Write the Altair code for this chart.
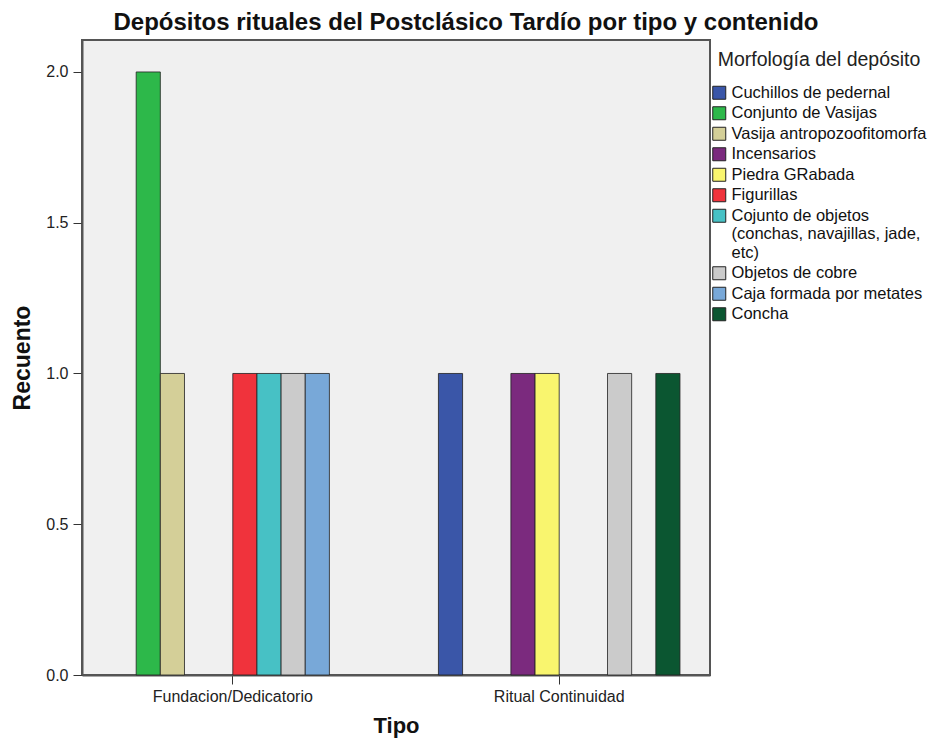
import altair as alt
import pandas as pd

tipos = ["Fundacion/Dedicatorio", "Ritual Continuidad"]
morfologias = [
    "Cuchillos de pedernal",
    "Conjunto de Vasijas",
    "Vasija antropozoofitomorfa",
    "Incensarios",
    "Piedra GRabada",
    "Figurillas",
    "Cojunto de objetos (conchas, navajillas, jade, etc)",
    "Objetos de cobre",
    "Caja formada por metates",
    "Concha",
]
colores = ["#3A56A8", "#2DB84A", "#D4CF98", "#7B2A7E", "#F9F56E",
           "#F0333C", "#47C1C5", "#CBCBCB", "#78A8D8", "#0B5631"]

fund_tipo = ["Fundacion/Dedicatorio"] * 6
fund_morf = ["Conjunto de Vasijas", "Vasija antropozoofitomorfa", "Figurillas",
             "Cojunto de objetos (conchas, navajillas, jade, etc)",
             "Objetos de cobre", "Caja formada por metates"]
fund_val = [2, 1, 1, 1, 1, 1]
rit_tipo = ["Ritual Continuidad"] * 5
rit_morf = ["Cuchillos de pedernal", "Incensarios", "Piedra GRabada",
            "Objetos de cobre", "Concha"]
rit_val = [1, 1, 1, 1, 1]

df = pd.DataFrame({
    "Tipo": fund_tipo + rit_tipo,
    "Morfologia": fund_morf + rit_morf,
    "Recuento": fund_val + rit_val,
})

label_expr = ("datum.label == 'Cojunto de objetos (conchas, navajillas, jade, etc)' ? "
              "['Cojunto de objetos', '(conchas, navajillas, jade,', 'etc)'] : datum.label")

FONT = "Liberation Sans"

chart = alt.Chart(df).mark_bar(stroke="#222222", strokeWidth=1, strokeOpacity=0.8).encode(
    x=alt.X("Tipo:N", sort=tipos,
            scale=alt.Scale(domain=tipos, paddingInner=0.26, paddingOuter=0.092),
            axis=alt.Axis(title="Tipo", labelAngle=0, labelFont=FONT,
                          labelFontSize=16, labelColor="#222222", titleFont=FONT,
                          titleFontSize=22, titleFontWeight="bold", titleColor="#111111",
                          titlePadding=11, domainColor="#555555", domainWidth=2,
                          tickColor="#333333", tickSize=9, labelPadding=4,
                          bandPosition=0.5)),
    xOffset=alt.XOffset("Morfologia:N", sort=morfologias,
                        scale=alt.Scale(domain=morfologias, paddingInner=0, paddingOuter=0)),
    y=alt.Y("Recuento:Q",
            scale=alt.Scale(domain=[0, 2.106], nice=False, zero=True),
            axis=alt.Axis(title="Recuento", values=[0, 0.5, 1.0, 1.5, 2.0], format=".1f",
                          grid=False, labelFont=FONT, labelFontSize=16,
                          labelColor="#222222", titleFont=FONT, titleFontSize=23,
                          titleFontWeight="bold", titleColor="#111111", titlePadding=11,
                          domainColor="#555555", domainWidth=2, tickColor="#333333",
                          tickSize=9, labelPadding=5)),
    color=alt.Color("Morfologia:N", sort=morfologias,
                    scale=alt.Scale(domain=morfologias, range=colores),
                    legend=alt.Legend(title="Morfología del depósito", orient="none",
                                      legendX=629, legendY=11, padding=0,
                                      symbolType="square",
                                      symbolSize=169, symbolStrokeColor="#222222",
                                      symbolStrokeWidth=1, symbolOpacity=1,
                                      labelFont=FONT, labelFontSize=16.5,
                                      labelColor="#111111", labelLimit=260,
                                      labelExpr=label_expr, labelOffset=4,
                                      titleFont=FONT, titleFontSize=19.5,
                                      titleFontWeight="normal", titleColor="#222222",
                                      titleAnchor="middle", titleLimit=300,
                                      titlePadding=14, rowPadding=2.5)),
).properties(
    width=628,
    height=635,
    autosize=alt.AutoSizeParams(type="none"),
    padding={"left": 74, "top": 32, "right": 221, "bottom": 63},
    title=alt.TitleParams("Depósitos rituales del Postclásico Tardío por tipo y contenido",
                          font=FONT, fontSize=24, fontWeight="bold",
                          color="#111111", anchor="middle", dx=70, offset=5),
).configure_view(
    fill="#F0F0F0", stroke="#555555", strokeWidth=2
)

chart.save("out.html", embed_options={"renderer": "svg", "actions": False})
